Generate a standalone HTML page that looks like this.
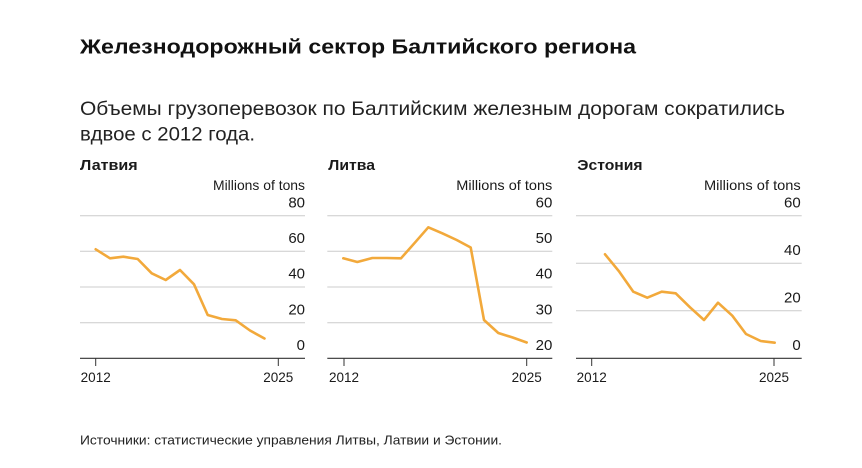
<!DOCTYPE html>
<html>
<head>
<meta charset="utf-8">
<style>
  html, body { margin: 0; padding: 0; background: #ffffff; }
  body { width: 862px; height: 468px; overflow: hidden; }
  svg { display: block; }
  text { font-family: "Liberation Sans", "Noto Sans CJK SC", sans-serif; fill: #1a1a1a; }
</style>
</head>
<body>
<svg width="862" height="468" viewBox="0 0 862 468" xmlns="http://www.w3.org/2000/svg">
  <rect width="862" height="468" fill="#ffffff"/>

  <!-- Title -->
  <text x="80" y="53.5" font-size="20.5" font-weight="bold" textLength="556" lengthAdjust="spacingAndGlyphs" style="fill:#111">Железнодорожный сектор Балтийского региона</text>

  <!-- Subtitle -->
  <text x="80" y="115" font-size="19.5" textLength="705" lengthAdjust="spacingAndGlyphs" style="fill:#222">Объемы грузоперевозок по Балтийским железным дорогам сократились</text>
  <text x="80" y="140.5" font-size="19.5" textLength="175" lengthAdjust="spacingAndGlyphs" style="fill:#222">вдвое с 2012 года.</text>

  <!-- ============ LATVIA ============ -->
  <text x="80" y="170" font-size="15" font-weight="bold" textLength="57.7" lengthAdjust="spacingAndGlyphs">Латвия</text>
  <text x="305" y="190" font-size="14" text-anchor="end" textLength="92" lengthAdjust="spacingAndGlyphs">Millions of tons</text>
  <g stroke="#cccccc" stroke-width="1">
    <line x1="80" y1="215.7" x2="305" y2="215.7"/>
    <line x1="80" y1="251.3" x2="305" y2="251.3"/>
    <line x1="80" y1="287" x2="305" y2="287"/>
    <line x1="80" y1="322.7" x2="305" y2="322.7"/>
  </g>
  <g font-size="15" text-anchor="end">
    <text x="305" y="207.5">80</text>
    <text x="305" y="243">60</text>
    <text x="305" y="278.7">40</text>
    <text x="305" y="314.3">20</text>
    <text x="305" y="350">0</text>
  </g>
  <line x1="80" y1="358.3" x2="305" y2="358.3" stroke="#333" stroke-width="1.2"/>
  <line x1="95.7" y1="358.3" x2="95.7" y2="366" stroke="#333" stroke-width="1"/>
  <line x1="278.3" y1="358.3" x2="278.3" y2="366" stroke="#333" stroke-width="1"/>
  <text x="95.7" y="382" font-size="13.5" text-anchor="middle">2012</text>
  <text x="278.3" y="382" font-size="13.5" text-anchor="middle">2025</text>
  <polyline fill="none" stroke="#F2A93B" stroke-width="2.6" stroke-linejoin="round" stroke-linecap="round"
    points="95.7,249.3 110,258.3 123.3,256.7 137.7,259 151.7,273.3 165.7,280 180,270 194,284.3 207.7,315 222,319 235.7,320.3 250,330.5 264.5,338.5"/>

  <!-- ============ LITHUANIA ============ -->
  <text x="328.3" y="170" font-size="15" font-weight="bold" textLength="46.7" lengthAdjust="spacingAndGlyphs">Литва</text>
  <text x="552.3" y="190" font-size="14" text-anchor="end" textLength="96" lengthAdjust="spacingAndGlyphs">Millions of tons</text>
  <g stroke="#cccccc" stroke-width="1">
    <line x1="327.3" y1="215.7" x2="552.3" y2="215.7"/>
    <line x1="327.3" y1="251.3" x2="552.3" y2="251.3"/>
    <line x1="327.3" y1="287" x2="552.3" y2="287"/>
    <line x1="327.3" y1="322.7" x2="552.3" y2="322.7"/>
  </g>
  <g font-size="15" text-anchor="end">
    <text x="552.3" y="207.5">60</text>
    <text x="552.3" y="243">50</text>
    <text x="552.3" y="278.7">40</text>
    <text x="552.3" y="314.3">30</text>
    <text x="552.3" y="350">20</text>
  </g>
  <line x1="327.3" y1="358.3" x2="552.3" y2="358.3" stroke="#333" stroke-width="1.2"/>
  <line x1="344" y1="358.3" x2="344" y2="366" stroke="#333" stroke-width="1"/>
  <line x1="526.7" y1="358.3" x2="526.7" y2="366" stroke="#333" stroke-width="1"/>
  <text x="344" y="382" font-size="13.5" text-anchor="middle">2012</text>
  <text x="526.7" y="382" font-size="13.5" text-anchor="middle">2025</text>
  <polyline fill="none" stroke="#F2A93B" stroke-width="2.6" stroke-linejoin="round" stroke-linecap="round"
    points="343.3,258.3 357.3,262 372.3,258 386.7,258 401,258.3 414.3,243.3 428.3,227.3 442.3,233.3 456.7,240 470.7,247.5 484,320 498.3,333 512.7,337.5 526.7,342.5"/>

  <!-- ============ ESTONIA ============ -->
  <text x="577.3" y="170" font-size="15" font-weight="bold" textLength="65.3" lengthAdjust="spacingAndGlyphs">Эстония</text>
  <text x="800.7" y="190" font-size="14" text-anchor="end" textLength="96.7" lengthAdjust="spacingAndGlyphs">Millions of tons</text>
  <g stroke="#cccccc" stroke-width="1">
    <line x1="576" y1="215.7" x2="801.7" y2="215.7"/>
    <line x1="576" y1="263.3" x2="801.7" y2="263.3"/>
    <line x1="576" y1="310.7" x2="801.7" y2="310.7"/>
  </g>
  <g font-size="15" text-anchor="end">
    <text x="800.7" y="207.5">60</text>
    <text x="800.7" y="255">40</text>
    <text x="800.7" y="302.5">20</text>
    <text x="800.7" y="350">0</text>
  </g>
  <line x1="576" y1="358.3" x2="801.7" y2="358.3" stroke="#333" stroke-width="1.2"/>
  <line x1="591.7" y1="358.3" x2="591.7" y2="366" stroke="#333" stroke-width="1"/>
  <line x1="774" y1="358.3" x2="774" y2="366" stroke="#333" stroke-width="1"/>
  <text x="591.7" y="382" font-size="13.5" text-anchor="middle">2012</text>
  <text x="774" y="382" font-size="13.5" text-anchor="middle">2025</text>
  <polyline fill="none" stroke="#F2A93B" stroke-width="2.6" stroke-linejoin="round" stroke-linecap="round"
    points="605,254.3 619.3,271.7 633.3,291.7 647.3,297.7 661.7,291.7 675.7,293.3 690,307.3 704,320 718,302.7 732.3,315.7 746,334 760.7,341 774.7,342.7"/>

  <!-- Source -->
  <text x="80" y="444.3" font-size="13" textLength="422" lengthAdjust="spacingAndGlyphs" style="fill:#222">Источники: статистические управления Литвы, Латвии и Эстонии.</text>
</svg>
</body>
</html>
